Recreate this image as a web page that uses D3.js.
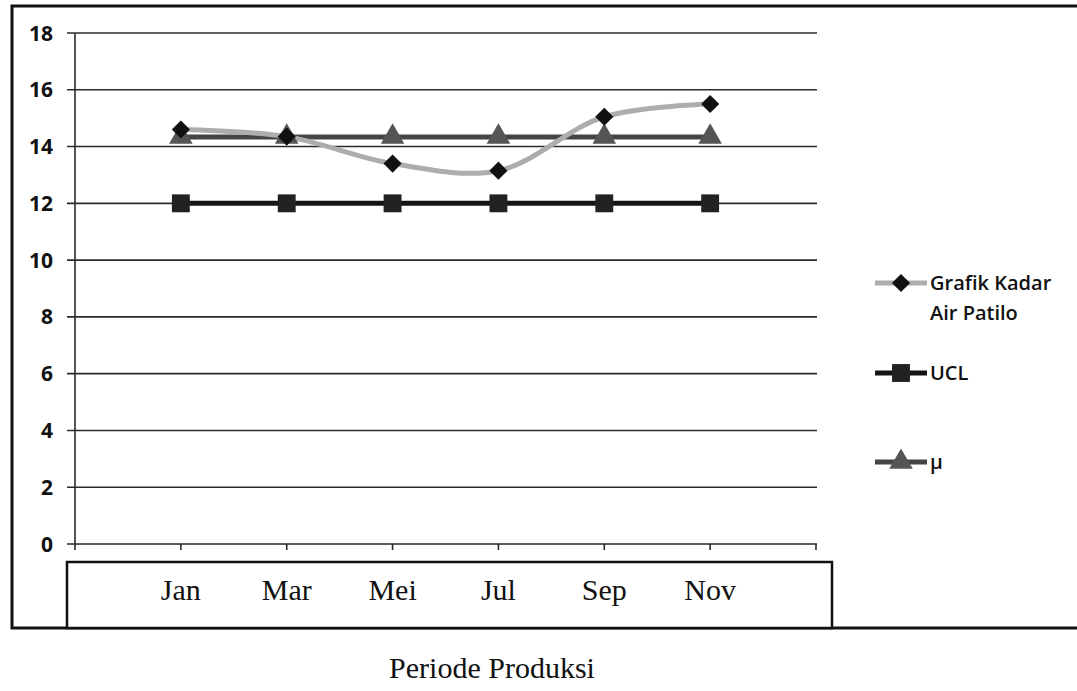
<!DOCTYPE html>
<html>
<head>
<meta charset="utf-8">
<script src="https://cdn.jsdelivr.net/npm/d3@7"></script>
<style>
  html, body { margin: 0; padding: 0; background: #fff; }
  svg { display: block; }
</style>
</head>
<body>
<svg id="chart" width="1077" height="691"></svg>
<script>
// Production periods and measured moisture content (Kadar Air Patilo)
const categories = ["Jan", "Mar", "Mei", "Jul", "Sep", "Nov"];
const kadarAir = [14.6, 14.35, 13.4, 13.15, 15.05, 15.5];
const ucl = [12, 12, 12, 12, 12, 12];
const mu = [14.34, 14.34, 14.34, 14.34, 14.34, 14.34];
const yTicks = [0, 2, 4, 6, 8, 10, 12, 14, 16, 18];
const seriesNames = ["Grafik Kadar\nAir Patilo", "UCL", "\u03bc"];
const xTitle = "Periode Produksi";

const svg = d3.select("#chart");

// Plot geometry
const plot = { left: 75, right: 816, top: 33, bottom: 544 };

const x = d3.scaleLinear().domain([0, categories.length + 1]).range([plot.left, plot.right]);
const y = d3.scaleLinear().domain([0, 18]).range([plot.bottom, plot.top]);

// Outer chart frame
svg.append("rect")
  .attr("x", 12).attr("y", 6)
  .attr("width", 1100).attr("height", 622)
  .attr("fill", "none").attr("stroke", "#111").attr("stroke-width", 3);

// Horizontal gridlines with left tick marks
svg.append("g")
  .selectAll("line")
  .data(yTicks)
  .join("line")
  .attr("x1", plot.left - 8).attr("x2", plot.right + 1)
  .attr("y1", d => y(d)).attr("y2", d => y(d))
  .attr("stroke", "#2a2a2a").attr("stroke-width", 1.6);

// Vertical value axis
svg.append("line")
  .attr("x1", plot.left).attr("x2", plot.left)
  .attr("y1", y(18)).attr("y2", y(0))
  .attr("stroke", "#2a2a2a").attr("stroke-width", 1.6);

// Y tick labels
svg.append("g")
  .selectAll("text")
  .data(yTicks)
  .join("text")
  .attr("x", 53).attr("y", d => y(d))
  .attr("dy", "0.36em")
  .attr("text-anchor", "end")
  .attr("font-family", "'Open Sans', sans-serif")
  .attr("font-weight", 700)
  .attr("font-size", 21)
  .attr("fill", "#111")
  .text(d => d);

// Category tick marks on the baseline
svg.append("g")
  .selectAll("line")
  .data(d3.range(categories.length + 2))
  .join("line")
  .attr("x1", d => x(d)).attr("x2", d => x(d))
  .attr("y1", y(0)).attr("y2", y(0) + 6)
  .attr("stroke", "#2a2a2a").attr("stroke-width", 1.6);

// Category label box
svg.append("rect")
  .attr("x", 67).attr("y", 562)
  .attr("width", 765).attr("height", 66)
  .attr("fill", "#fff").attr("stroke", "#111").attr("stroke-width", 2.5);

svg.append("g")
  .selectAll("text")
  .data(categories)
  .join("text")
  .attr("x", (d, i) => x(i + 1))
  .attr("y", 600)
  .attr("text-anchor", "middle")
  .attr("font-family", "'Liberation Serif', 'Times New Roman', serif")
  .attr("font-size", 30)
  .attr("fill", "#111")
  .text(d => d);

// Axis title
svg.append("text")
  .attr("x", 492).attr("y", 678)
  .attr("text-anchor", "middle")
  .attr("font-family", "'Liberation Serif', 'Times New Roman', serif")
  .attr("font-size", 30)
  .attr("fill", "#111")
  .text(xTitle);

// Marker shapes
const sym = {
  diamond: d3.symbol().type(d3.symbolDiamond2).size(210),
  square: d3.symbol().type(d3.symbolSquare).size(320),
  triangle: d3.symbol().type(d3.symbolTriangle).size(240)
};

const series = [
  { name: seriesNames[0], values: kadarAir, line: "#adadad", width: 5, marker: sym.diamond, fill: "#111",
    curve: d3.curveCatmullRom.alpha(0.5) },
  { name: seriesNames[1], values: ucl, line: "#151515", width: 5, marker: sym.square, fill: "#222",
    curve: d3.curveLinear },
  { name: seriesNames[2], values: mu, line: "#454545", width: 5, marker: sym.triangle, fill: "#555",
    curve: d3.curveLinear }
];

// Draw in order: UCL, mean, then measurements on top
const drawOrder = [1, 2, 0];
drawOrder.forEach(k => {
  const s = series[k];
  const line = d3.line()
    .x((d, i) => x(i + 1))
    .y(d => y(d))
    .curve(s.curve);
  svg.append("path")
    .datum(s.values)
    .attr("d", line)
    .attr("fill", "none")
    .attr("stroke", s.line)
    .attr("stroke-width", s.width)
    .attr("stroke-linejoin", "round");
});
drawOrder.forEach(k => {
  const s = series[k];
  svg.append("g")
    .selectAll("path")
    .data(s.values)
    .join("path")
    .attr("transform", (d, i) => `translate(${x(i + 1)},${y(d)})`)
    .attr("d", s.marker())
    .attr("fill", s.fill);
});

// Legend
const legendY = [283, 373, 462];
series.forEach((s, k) => {
  const g = svg.append("g").attr("transform", `translate(0,${legendY[k]})`);
  g.append("line")
    .attr("x1", 875).attr("x2", 927).attr("y1", 0).attr("y2", 0)
    .attr("stroke", s.line).attr("stroke-width", 5);
  g.append("path")
    .attr("transform", "translate(901,0)")
    .attr("d", s.marker())
    .attr("fill", s.fill);
  const t = g.append("text")
    .attr("x", 930).attr("y", 0)
    .attr("font-family", "'Open Sans', sans-serif")
    .attr("font-weight", 600)
    .attr("font-size", 20)
    .attr("fill", "#111");
  s.name.split("\n").forEach((ln, j) => {
    t.append("tspan").attr("x", 930).attr("dy", j === 0 ? "0.36em" : "1.5em").text(ln);
  });
});
</script>
</body>
</html>
